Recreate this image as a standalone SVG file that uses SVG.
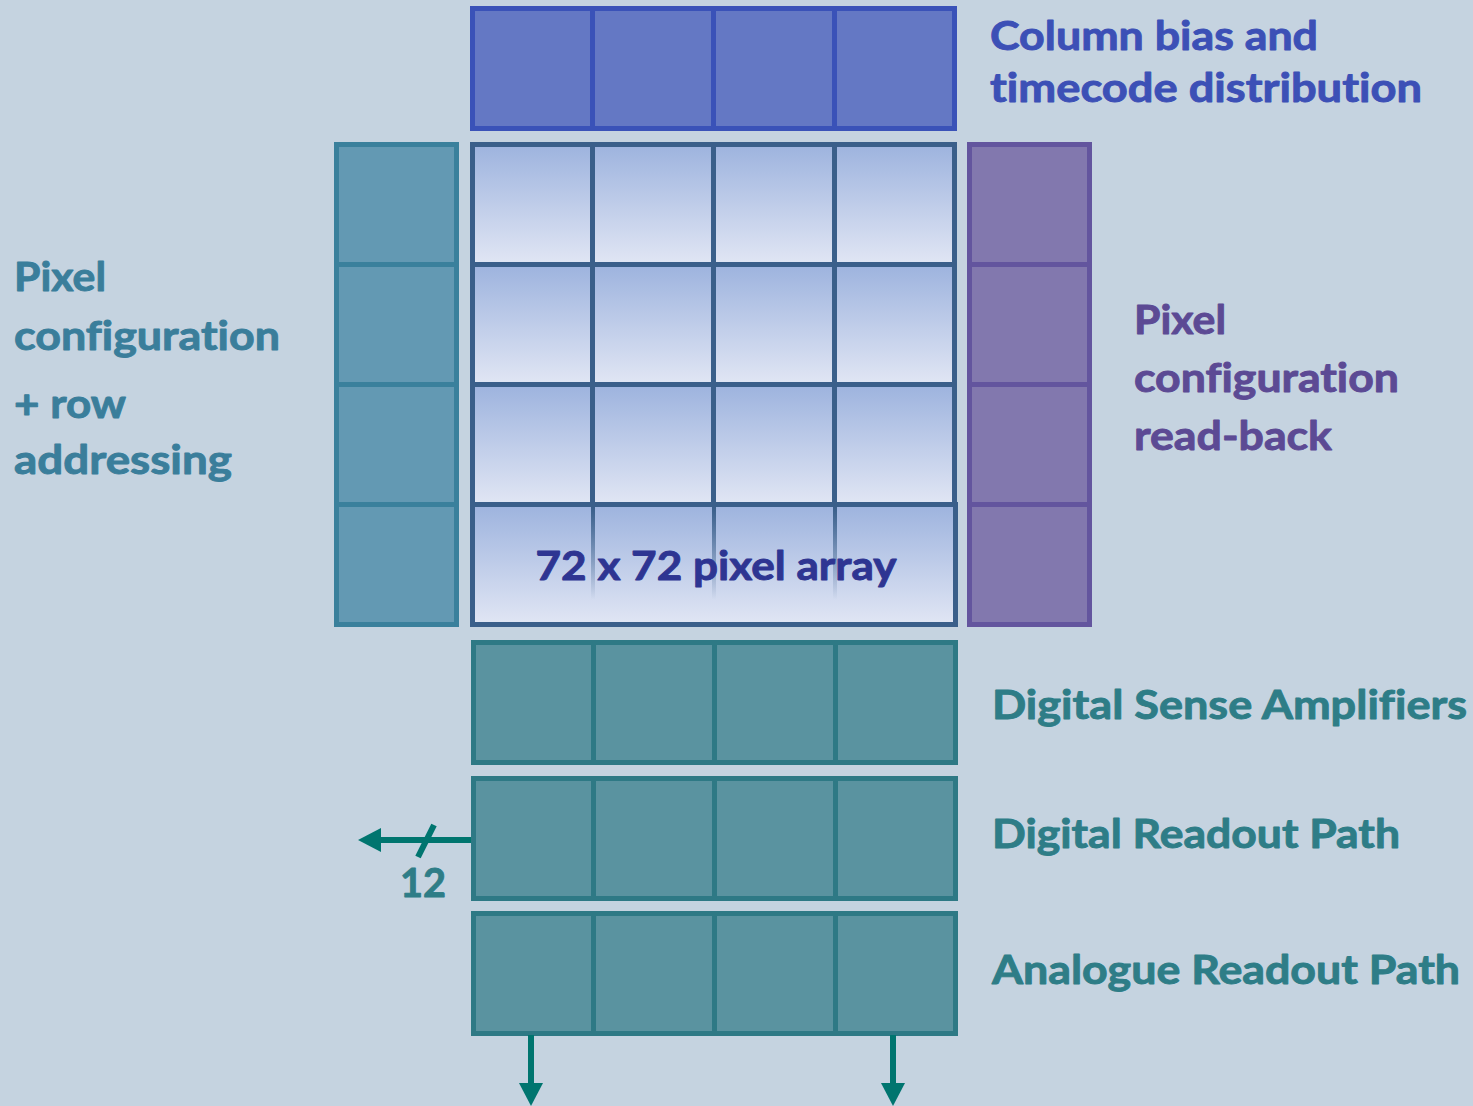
<svg xmlns="http://www.w3.org/2000/svg" width="1473" height="1106" viewBox="0 0 1473 1106">
<defs>
<linearGradient id="cellG" x1="0" y1="0" x2="0" y2="1">
<stop offset="0" stop-color="#9db3de"/>
<stop offset="1" stop-color="#e1e6f4"/>
</linearGradient>
<linearGradient id="divG" x1="0" y1="0" x2="0" y2="1">
<stop offset="0" stop-color="#3a5f8a" stop-opacity="1"/>
<stop offset="0.8" stop-color="#3a5f8a" stop-opacity="0"/>
</linearGradient>
</defs>
<style>
.t{font-family:Lato,"Open Sans","Liberation Sans",sans-serif;font-weight:bold;font-size:40px;stroke-width:0.9;stroke-linejoin:round;font-variant-ligatures:none;font-feature-settings:"liga" 0,"dlig" 0}
.cb{fill:#3c50b6;stroke:#3c50b6}
.cl{fill:#3a7e9b;stroke:#3a7e9b}
.cr{fill:#5c4a94;stroke:#5c4a94}
.cg{fill:#2e7d87;stroke:#2e7d87}
.cn{fill:#2e3592;stroke:#2e3592}
.top{fill:#6478c4;stroke:#3a52b8;stroke-width:5}
.lc{fill:#6399b3;stroke:#3a809c;stroke-width:5}
.rc{fill:#8278ae;stroke:#63559e;stroke-width:5}
.pc{fill:url(#cellG);stroke:#3a5f8a;stroke-width:5}
.bt{fill:#5a93a0;stroke:#2e7985;stroke-width:5}
.ar{stroke:#00756f;stroke-width:6;fill:none}
.ah{fill:#00756f}
</style>
<rect width="1473" height="1106" fill="#c5d3e0"/>

<g id="column-bias">
<rect class="top" x="472.5" y="8.5" width="120" height="120"/>
<rect class="top" x="592.5" y="8.5" width="121" height="120"/>
<rect class="top" x="713.5" y="8.5" width="121" height="120"/>
<rect class="top" x="834.5" y="8.5" width="120" height="120"/>
</g>

<g id="pixel-config-left">
<rect class="lc" x="336.5" y="144.5" width="120" height="120"/>
<rect class="lc" x="336.5" y="264.5" width="120" height="120"/>
<rect class="lc" x="336.5" y="384.5" width="120" height="120"/>
<rect class="lc" x="336.5" y="504.5" width="120" height="120"/>
</g>

<g id="pixel-readback-right">
<rect class="rc" x="969.5" y="144.5" width="120" height="120"/>
<rect class="rc" x="969.5" y="264.5" width="120" height="120"/>
<rect class="rc" x="969.5" y="384.5" width="120" height="120"/>
<rect class="rc" x="969.5" y="504.5" width="120" height="120"/>
</g>

<g id="pixel-array">
<rect class="pc" x="472.5" y="144.5" width="120" height="120"/>
<rect class="pc" x="592.5" y="144.5" width="121" height="120"/>
<rect class="pc" x="713.5" y="144.5" width="121" height="120"/>
<rect class="pc" x="834.5" y="144.5" width="120" height="120"/>
<rect class="pc" x="472.5" y="264.5" width="120" height="120"/>
<rect class="pc" x="592.5" y="264.5" width="121" height="120"/>
<rect class="pc" x="713.5" y="264.5" width="121" height="120"/>
<rect class="pc" x="834.5" y="264.5" width="120" height="120"/>
<rect class="pc" x="472.5" y="384.5" width="120" height="120"/>
<rect class="pc" x="592.5" y="384.5" width="121" height="120"/>
<rect class="pc" x="713.5" y="384.5" width="121" height="120"/>
<rect class="pc" x="834.5" y="384.5" width="120" height="120"/>
<rect class="pc" x="472.5" y="504.5" width="483" height="120"/>
<rect x="591" y="507" width="4" height="116" fill="url(#divG)"/>
<rect x="712" y="507" width="4" height="116" fill="url(#divG)"/>
<rect x="833" y="507" width="4" height="116" fill="url(#divG)"/>
<text class="t cn" x="716" y="580" text-anchor="middle" textLength="361" lengthAdjust="spacingAndGlyphs">72 x 72 pixel array</text>
</g>

<g id="digital-sense-amplifiers">
<rect class="bt" x="473.5" y="642.5" width="120" height="120"/>
<rect class="bt" x="593.5" y="642.5" width="121" height="120"/>
<rect class="bt" x="714.5" y="642.5" width="121" height="120"/>
<rect class="bt" x="835.5" y="642.5" width="120" height="120"/>
</g>

<g id="digital-readout-path">
<rect class="bt" x="473.5" y="778.5" width="120" height="120"/>
<rect class="bt" x="593.5" y="778.5" width="121" height="120"/>
<rect class="bt" x="714.5" y="778.5" width="121" height="120"/>
<rect class="bt" x="835.5" y="778.5" width="120" height="120"/>
</g>

<g id="analogue-readout-path">
<rect class="bt" x="473.5" y="913.5" width="120" height="120"/>
<rect class="bt" x="593.5" y="913.5" width="121" height="120"/>
<rect class="bt" x="714.5" y="913.5" width="121" height="120"/>
<rect class="bt" x="835.5" y="913.5" width="120" height="120"/>
</g>

<g id="connectors">
<line class="ar" x1="471" y1="840" x2="380" y2="840"/>
<path class="ah" d="M381,828 L358,840 L381,852 Z"/>
<line x1="418" y1="857" x2="434" y2="825" stroke="#00756f" stroke-width="6"/>
<line class="ar" x1="531" y1="1035" x2="531" y2="1084"/>
<path class="ah" d="M519,1083 L531,1106 L543,1083 Z"/>
<line class="ar" x1="893" y1="1035" x2="893" y2="1084"/>
<path class="ah" d="M881,1083 L893,1106 L905,1083 Z"/>
<text class="t cg" x="400" y="897" textLength="46" lengthAdjust="spacingAndGlyphs">12</text>
</g>

<g id="labels">
<text class="t cb" x="990" y="50" textLength="328" lengthAdjust="spacingAndGlyphs">Column bias and</text>
<text class="t cb" x="990" y="102" textLength="432" lengthAdjust="spacingAndGlyphs">timecode distribution</text>
<text class="t cl" x="14" y="291" textLength="92" lengthAdjust="spacingAndGlyphs">Pixel</text>
<text class="t cl" x="14" y="350" textLength="266" lengthAdjust="spacingAndGlyphs">configuration</text>
<text class="t cl" x="14" y="418" textLength="112" lengthAdjust="spacingAndGlyphs">+ row</text>
<text class="t cl" x="14" y="474" textLength="218" lengthAdjust="spacingAndGlyphs">addressing</text>
<text class="t cr" x="1134" y="334" textLength="92" lengthAdjust="spacingAndGlyphs">Pixel</text>
<text class="t cr" x="1134" y="392" textLength="265" lengthAdjust="spacingAndGlyphs">configuration</text>
<text class="t cr" x="1134" y="450" textLength="198" lengthAdjust="spacingAndGlyphs">read-back</text>
<text class="t cg" x="992" y="719" textLength="475" lengthAdjust="spacingAndGlyphs">Digital Sense Amplifiers</text>
<text class="t cg" x="992" y="848" textLength="408" lengthAdjust="spacingAndGlyphs">Digital Readout Path</text>
<text class="t cg" x="992" y="984" textLength="468" lengthAdjust="spacingAndGlyphs">Analogue Readout Path</text>
</g>
</svg>
